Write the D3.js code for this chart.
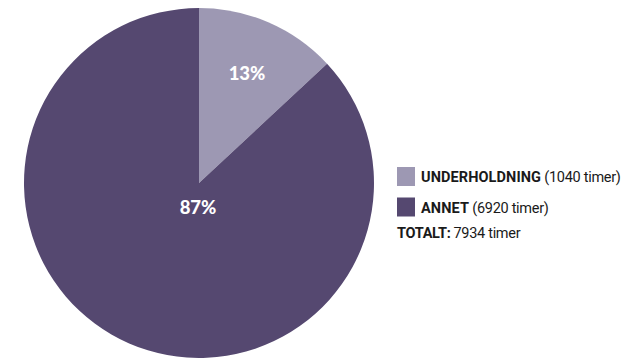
<!DOCTYPE html>
<html><head><meta charset="utf-8">
<script src="https://cdn.jsdelivr.net/npm/d3@7"></script>
<style>body{margin:0;background:#fff;}svg{display:block;}</style>
</head><body>
<svg id="c" width="634" height="358"></svg>
<script>
const categories = ["UNDERHOLDNING", "ANNET"];
const values = [1040, 6920];
const percentLabels = ["13%", "87%"];
const legendDetails = ["(1040 timer)", "(6920 timer)"];
const totalLabel = "TOTALT:";
const totalValue = "7934 timer";
const colors = ["#9d98b3", "#554870"];

const svg = d3.select("#c");
const cx = 199, cy = 183, r = 175;
const pie = d3.pie().sort(null).value(d => d)(values);
const arc = d3.arc().innerRadius(0).outerRadius(r);
const g = svg.append("g").attr("transform", `translate(${cx},${cy})`);
g.selectAll("path").data(pie).join("path")
  .attr("d", arc).attr("fill", (d, i) => colors[i]);

const labelPos = [[247, 80], [198, 214]];
g.selectAll("text.pct").data(pie).join("text")
  .attr("class", "pct")
  .attr("transform", (d, i) => `translate(${labelPos[i][0] - cx},${labelPos[i][1] - cy})`)
  .attr("text-anchor", "middle")
  .attr("font-family", "Lato, 'Open Sans', sans-serif")
  .attr("font-weight", 900)
  .attr("font-size", 18.5)
  .attr("fill", "#fff")
  .text((d, i) => percentLabels[i]);

const font = "Roboto, Lato, sans-serif";
const leg = svg.append("g");
categories.forEach((c, i) => {
  const y = 167 + i * 30.5;
  leg.append("rect").attr("x", 397).attr("y", y).attr("width", 18).attr("height", 19).attr("fill", colors[i]);
  const t = leg.append("text").attr("x", 421).attr("y", y + 15)
    .attr("font-family", font).attr("font-size", 14.5).attr("fill", "#1a1a1a");
  t.append("tspan").attr("font-weight", 700).attr("letter-spacing", 0.1).text(c);
  t.append("tspan").attr("font-weight", 400).attr("letter-spacing", -0.3).text(" " + legendDetails[i]);
});
const tt = leg.append("text").attr("x", 397).attr("y", 238)
  .attr("font-family", font).attr("font-size", 14.5).attr("fill", "#1a1a1a");
tt.append("tspan").attr("font-weight", 700).attr("letter-spacing", -0.3).text(totalLabel);
tt.append("tspan").attr("font-weight", 400).attr("letter-spacing", -0.3).attr("dx", 3).text(totalValue);
</script>
</body></html>
